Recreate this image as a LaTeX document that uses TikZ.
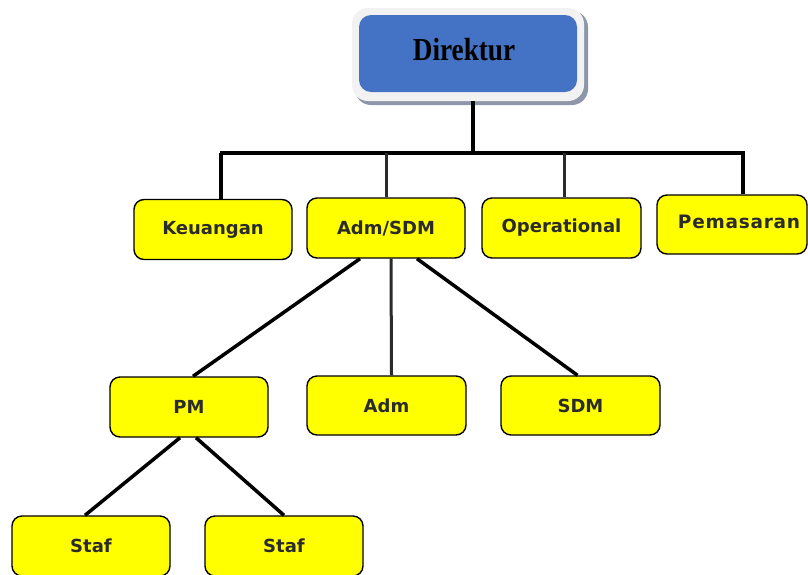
\documentclass[tikz,border=0pt]{standalone}
\usepackage{fontspec}
\setmainfont{DejaVu Sans}
\newfontfamily\headfont{Liberation Serif}
\definecolor{boxyellow}{HTML}{FFFF00}
\definecolor{headblue}{HTML}{4472C4}
\definecolor{labelgray}{HTML}{2B2B2B}
\definecolor{framegray}{HTML}{F2F2F2}
\definecolor{shadowgray}{HTML}{8E97AA}
\begin{document}
\begin{tikzpicture}[x=1pt,y=-1pt,
  unitbox/.style={draw=black, line width=1.4pt, fill=boxyellow, rounded corners=10pt,
    minimum width=158pt, minimum height=60pt, inner sep=0pt,
    text=labelgray, font=\fontsize{18}{21}\selectfont\bfseries},
  thickline/.style={line width=4.5pt, black},
  thinline/.style={line width=3pt, labelgray},
  link/.style={line width=3.5pt, black}]
\useasboundingbox (0,0) rectangle (808,574);

% Direktur: framed blue box with soft shadow
\fill[shadowgray, rounded corners=16pt] (355,11) rectangle (588,105);
\fill[framegray, rounded corners=16pt] (352,8) rectangle (584,101);
\node[fill=headblue, rounded corners=12pt, minimum width=218pt, minimum height=77pt,
  inner sep=0pt] (dir) at (468,53.5) {};
\node[inner sep=0pt, font=\headfont\fontsize{32}{36}\selectfont\bfseries] (dirtxt) at (464,50)
  {\scalebox{0.85}[1]{Direktur}};

% Division heads
\node[unitbox] (keu) at (213,229.5) {Keuangan};
\node[unitbox] (admsdm) at (386,228) {Adm/SDM};
\node[unitbox, minimum width=159pt] (ops) at (561.5,228) {Operational};
\node[unitbox, minimum width=150pt, minimum height=59pt] (pem) at (732,224.5) {};
\node[text=labelgray, font=\fontsize{18.5}{21}\selectfont\bfseries\addfontfeatures{LetterSpace=4}] (pemtxt) at (739,222) {Pemasaran};

% Second level
\node[unitbox] (pm) at (189,407) {PM};
\node[unitbox, minimum width=159pt, minimum height=59pt] (adm) at (386.5,405.5) {Adm};
\node[unitbox, minimum width=159pt, minimum height=59pt] (sdm) at (580.5,405.5) {SDM};

% Staff
\node[unitbox] (staf1) at (91,546) {Staf};
\node[unitbox] (staf2) at (284,546) {Staf};

% Bus from Direktur to the divisions
\coordinate (busL) at (221,153);
\coordinate (busR) at (743,153);
\coordinate (busM) at (473,153);
\draw[thickline] ([xshift=5pt]dir.south |- 0,101) -- (busM);
\draw[thickline] ([xshift=-1.5pt]busL) -- ([xshift=1.5pt]busR);
\draw[thickline] (busL) -- (busL |- keu.north);
\draw[thinline] (admsdm.north |- busL) -- (admsdm.north);
\draw[thinline] ([xshift=3pt]ops.north |- busL) -- ([xshift=3pt]ops.north);
\draw[thickline] (busR) -- (busR |- pem.north);

% Adm/SDM branches
\draw[link] ([xshift=-26pt]admsdm.south) -- ([xshift=4pt]pm.north);
\draw[thinline] ([xshift=5pt]admsdm.south) -- ([xshift=5pt]adm.north);
\draw[link] ([xshift=31pt]admsdm.south) -- ([xshift=-3pt]sdm.north);

% PM branches
\draw[link] ([xshift=-9pt]pm.south) -- ([xshift=-6pt]staf1.north);
\draw[link] ([xshift=7pt]pm.south) -- (staf2.north);
\end{tikzpicture}
\end{document}
